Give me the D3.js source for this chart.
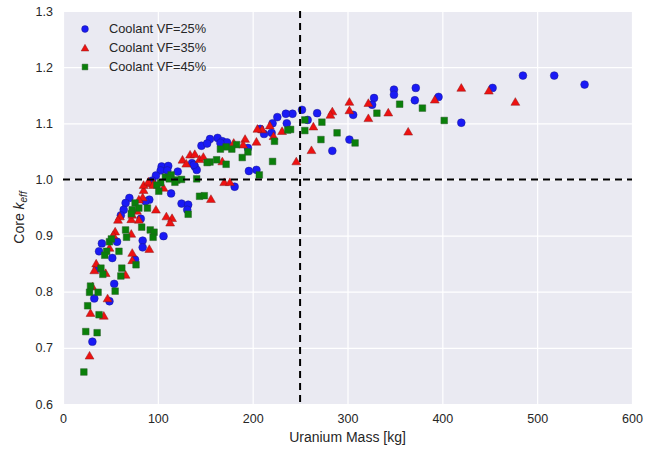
<!DOCTYPE html>
<html>
<head>
<meta charset="utf-8">
<script src="https://cdn.jsdelivr.net/npm/d3@7"></script>
<style>
  body { margin: 0; background: #fff; }
  text { font-family: "Liberation Sans", Arial, sans-serif; }
</style>
</head>
<body>
<div id="chart"></div>
<script>

// uranium mass [kg], core k_eff
var vf25Mass = [485, 518, 550, 453, 396, 420, 372, 371, 349, 349, 328, 326, 306, 302, 284, 268, 258, 252, 242, 235,
    236, 226, 221, 220, 212, 208, 195, 196, 204, 181, 155, 163, 168, 173, 166, 146, 152, 136, 139, 141,
    138, 104, 111, 103, 110, 121, 98, 94, 114, 125, 132, 131, 91, 87, 70, 66, 64, 61, 82, 41,
    38, 57, 52, 84, 84, 106, 76, 36, 54, 33, 49, 31];
var vf25Keff = [1.185, 1.185, 1.169, 1.163, 1.147, 1.101, 1.163, 1.141, 1.160, 1.151, 1.145, 1.133, 1.115, 1.071, 1.051, 1.118, 1.106, 1.124, 1.117, 1.117,
    1.100, 1.111, 1.100, 1.083, 1.081, 1.090, 1.056, 1.015, 1.017, 0.987, 1.072, 1.074, 1.068, 1.066, 1.065, 1.060, 1.064, 1.029, 1.023, 1.017,
    1.026, 1.023, 1.024, 1.016, 1.016, 1.014, 1.007, 0.998, 0.975, 0.957, 0.955, 0.946, 0.964, 0.961, 0.967, 0.958, 0.946, 0.936, 0.930, 0.886,
    0.872, 0.889, 0.860, 0.891, 0.879, 0.899, 0.857, 0.841, 0.814, 0.788, 0.783, 0.711];

var vf35Mass = [420, 449, 477, 392, 364, 343, 322, 322, 302, 302, 284, 282, 264, 262, 246, 231, 222, 218, 210, 205,
    204, 192, 190, 180, 168, 170, 176, 156, 126, 134, 139, 144, 148, 130, 106, 96, 91, 85, 84, 80,
    80, 72, 78, 73, 60, 58, 109, 115, 113, 98, 91, 73, 73, 66, 72, 55, 53, 49, 35, 33,
    45, 31, 47, 29, 43, 28, 85, 90, 95];
var vf35Keff = [1.163, 1.158, 1.138, 1.142, 1.085, 1.119, 1.136, 1.109, 1.138, 1.123, 1.121, 1.115, 1.094, 1.052, 1.032, 1.086, 1.077, 1.096, 1.089, 1.090,
    1.067, 1.072, 1.062, 1.065, 1.032, 0.995, 0.995, 0.965, 1.035, 1.044, 1.045, 1.036, 1.040, 1.028, 0.985, 0.993, 0.993, 0.981, 0.968, 0.964,
    0.928, 0.929, 0.944, 0.937, 0.934, 0.928, 0.934, 0.931, 0.923, 0.946, 0.876, 0.869, 0.856, 0.830, 0.903, 0.907, 0.901, 0.878, 0.850, 0.838,
    0.833, 0.809, 0.788, 0.762, 0.757, 0.686, 0.990, 0.996, 0.990];

var vf45Mass = [402, 379, 355, 331, 308, 289, 273, 272, 255, 255, 240, 237, 223, 221, 207, 195, 189, 183, 178, 172,
    166, 155, 162, 172, 141, 120, 125, 108, 114, 103, 118, 144, 149, 132, 152, 112, 99, 101, 76, 80,
    73, 72, 89, 83, 92, 96, 95, 66, 67, 59, 49, 46, 44, 51, 62, 61, 77, 40, 42, 55,
    29, 28, 37, 26, 38, 24, 36, 22];
var vf45Keff = [1.105, 1.127, 1.134, 1.118, 1.065, 1.083, 1.102, 1.071, 1.106, 1.087, 1.089, 1.088, 1.068, 1.032, 1.008, 1.049, 1.039, 1.062, 1.054, 1.058,
    1.054, 1.031, 1.035, 1.027, 1.001, 0.999, 1.000, 1.004, 1.008, 0.994, 0.995, 0.970, 0.971, 0.938, 1.030, 1.001, 0.990, 0.979, 0.958, 0.949,
    0.946, 0.939, 0.949, 0.915, 0.910, 0.906, 0.897, 0.910, 0.897, 0.872, 0.889, 0.872, 0.865, 0.894, 0.842, 0.828, 0.848, 0.842, 0.831, 0.801,
    0.810, 0.799, 0.799, 0.775, 0.759, 0.729, 0.727, 0.657];

var xTicks = [0, 100, 200, 300, 400, 500, 600];
var yTicks = [0.6, 0.7, 0.8, 0.9, 1.0, 1.1, 1.2, 1.3];
var massLimit = 250;
var keffLimit = 1.0;

var series = [
    {label: "Coolant VF=25%", shape: "circle", fill: "#1a1af5", edge: "#1a1a8c", mass: vf25Mass, keff: vf25Keff},
    {label: "Coolant VF=35%", shape: "triangle", fill: "#ee1111", edge: "#8a1a1a", mass: vf35Mass, keff: vf35Keff},
    {label: "Coolant VF=45%", shape: "square", fill: "#0a800a", edge: "#2a5a2a", mass: vf45Mass, keff: vf45Keff}
];

var W = 652, H = 450;
var margin = {top: 11, right: 20, bottom: 46, left: 63};
var width = W - margin.left - margin.right,
    height = H - margin.top - margin.bottom;

var x = d3.scaleLinear().domain([0, 600]).range([0, width]);
var y = d3.scaleLinear().domain([0.6, 1.3]).range([height, 0]);

var svg = d3.select("#chart").append("svg")
    .attr("width", W)
    .attr("height", H);

var g = svg.append("g")
    .attr("transform", "translate(" + margin.left + "," + margin.top + ")");

// darkgrid background
g.append("rect")
    .attr("width", width)
    .attr("height", height)
    .style("fill", "#eaeaf2");

// grid lines
g.append("g")
    .attr("transform", "translate(0," + height + ")")
    .call(d3.axisBottom(x).tickValues(xTicks).tickSize(-height).tickFormat(""))
    .call(function (a) { a.select(".domain").remove(); })
    .selectAll("line").style("stroke", "#fff").style("stroke-width", 1.2);

g.append("g")
    .call(d3.axisLeft(y).tickValues(yTicks).tickSize(-width).tickFormat(""))
    .call(function (a) { a.select(".domain").remove(); })
    .selectAll("line").style("stroke", "#fff").style("stroke-width", 1.2);

// tick labels
var xAxis = g.append("g")
    .attr("transform", "translate(0," + height + ")")
    .call(d3.axisBottom(x).tickValues(xTicks).tickSize(0).tickPadding(10).tickFormat(d3.format("d")));
xAxis.select(".domain").remove();
xAxis.selectAll("text").style("font-size", "12.5px").style("fill", "#262626");

var yAxis = g.append("g")
    .call(d3.axisLeft(y).tickValues(yTicks).tickSize(0).tickPadding(10).tickFormat(d3.format(".1f")));
yAxis.select(".domain").remove();
yAxis.selectAll("text").style("font-size", "12.5px").style("fill", "#262626");

// markers
var symbolTypes = {circle: d3.symbolCircle, triangle: d3.symbolTriangle, square: d3.symbolSquare};
var symbolSizes = {circle: 48, triangle: 34, square: 44};

var marks = g.append("g");
series.forEach(function (s) {
    var pts = s.mass.map(function (m, i) { return {m: m, k: s.keff[i]}; });
    marks.selectAll(".pt-" + s.shape)
        .data(pts)
        .enter()
        .append("path")
        .attr("class", "pt-" + s.shape)
        .attr("d", d3.symbol().type(symbolTypes[s.shape]).size(symbolSizes[s.shape]))
        .attr("transform", function (d) {
            var dy = s.shape == "triangle" ? 0.8 : 0;
            return "translate(" + x(d.m) + "," + (y(d.k) + dy) + ")";
        })
        .style("fill", s.fill)
        .style("stroke", s.edge)
        .style("stroke-opacity", 0.6)
        .style("stroke-width", 0.8);
});

// limit lines
g.append("line")
    .attr("x1", x(massLimit)).attr("x2", x(massLimit))
    .attr("y1", 0).attr("y2", height)
    .style("stroke", "#000").style("stroke-width", 2)
    .style("stroke-dasharray", "7,5");

g.append("line")
    .attr("x1", 0).attr("x2", width)
    .attr("y1", y(keffLimit)).attr("y2", y(keffLimit))
    .style("stroke", "#000").style("stroke-width", 2)
    .style("stroke-dasharray", "7,5");

// legend
var legend = g.append("g").attr("transform", "translate(22,18)");
series.forEach(function (s, i) {
    var row = legend.append("g").attr("transform", "translate(0," + (i * 19) + ")");
    row.append("path")
        .attr("d", d3.symbol().type(symbolTypes[s.shape]).size(symbolSizes[s.shape] * 0.75))
        .attr("transform", "translate(0," + (s.shape == "triangle" ? 0.8 : 0) + ")")
        .style("fill", s.fill)
        .style("stroke", s.edge)
        .style("stroke-opacity", 0.6)
        .style("stroke-width", 0.8);
    row.append("text")
        .attr("x", 24)
        .attr("dy", "0.35em")
        .style("font-size", "12.8px")
        .style("fill", "#262626")
        .text(s.label);
});

// axis titles
svg.append("text")
    .attr("x", margin.left + width / 2)
    .attr("y", H - 8)
    .attr("text-anchor", "middle")
    .style("font-size", "14px")
    .style("fill", "#262626")
    .text("Uranium Mass [kg]");

var yl = svg.append("text")
    .attr("transform", "translate(24," + (margin.top + height / 2 + 10) + ") rotate(-90)")
    .attr("text-anchor", "middle")
    .style("font-size", "14px")
    .style("fill", "#262626");
yl.append("tspan").text("Core ");
yl.append("tspan").style("font-style", "italic").text("k");
yl.append("tspan").attr("dy", 3).style("font-size", "10px").style("font-style", "italic").text("eff");

</script>
</body>
</html>
